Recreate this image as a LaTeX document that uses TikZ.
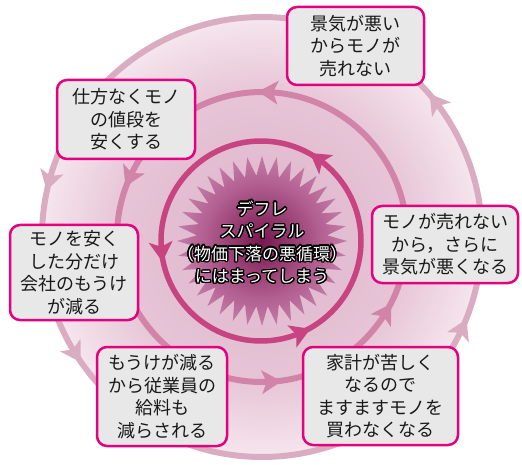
\documentclass[tikz,border=0pt]{standalone}
\usepackage{fontspec}
\setmainfont{Noto Sans CJK JP}
\usetikzlibrary{shapes.geometric}
\definecolor{ringOuter}{RGB}{218,172,194}
\definecolor{ringMid}{RGB}{210,132,168}
\definecolor{ringInner}{RGB}{200,68,128}
\definecolor{boxFill}{RGB}{232,232,232}
\definecolor{boxDraw}{RGB}{228,0,127}
\definecolor{txt}{RGB}{25,25,25}
\definecolor{bgA}{RGB}{222,178,202}
\definecolor{bgB}{RGB}{230,196,214}
\definecolor{bgC}{RGB}{242,222,232}
\definecolor{bgD}{RGB}{255,255,255}
\definecolor{starA}{RGB}{120,24,78}
\definecolor{starM}{RGB}{178,95,145}
\definecolor{starB}{RGB}{218,160,194}
\pgfdeclareradialshading{bgshade}{\pgfpoint{0bp}{0bp}}{color(0bp)=(bgA); color(16bp)=(bgB); color(23bp)=(bgC); color(31bp)=(bgD); color(50bp)=(bgD)}
\pgfdeclareradialshading{starshade}{\pgfpoint{0bp}{0bp}}{color(0bp)=(starA); color(17bp)=(starM); color(35bp)=(starB); color(50bp)=(starB)}
\newcommand\ringarrow[5]{%
  \fill[#5, shift={(#1,#2)}, rotate=#4] (#3-12,-8) -- (#3,12) -- (#3+12,-8) -- (#3,-3) -- cycle;}
\begin{document}
\begin{tikzpicture}[x=1pt,y=1pt,
  box/.style={draw=boxDraw, fill=boxFill, line width=2.5pt, rounded corners=10pt,
    align=center, text=txt, font=\fontsize{18}{22.5}\selectfont, inner sep=0pt},
  centertxt/.style={align=center, font=\fontsize{17}{22.5}\selectfont, inner sep=0pt}]
\useasboundingbox (0,0) rectangle (522,464);
% background gradient
\shade[shading=bgshade] (262,227) circle[radius=220];
% rings
\draw[ringOuter, line width=6pt] (262,227) circle[radius=220];
\draw[ringMid, line width=6pt] (262,227) circle[radius=145];
% star
\node[star, star points=36, star point ratio=1.3, minimum size=170pt, inner sep=0pt,
  shading=starshade, shade] (star) at (262,223) {};
\draw[ringInner, line width=5.5pt] (261,223) circle[radius=100];
% center text, outlined
\foreach \a in {0,22.5,...,337.5}
  \node[centertxt, text=black, xshift={1.4*cos(\a)*1pt}, yshift={1.4*sin(\a)*1pt}] at (262,222)
  {デフレ\\スパイラル\\（物価下落の悪循環）\\にはまってしまう};
\node[centertxt, text=white] (ctext) at (262,222)
  {デフレ\\スパイラル\\（物価下落の悪循環）\\にはまってしまう};
% ring arrows
\ringarrow{262}{227}{220}{164.7}{ringOuter}
\ringarrow{262}{227}{220}{211.5}{ringOuter}
\ringarrow{262}{227}{220}{335}{ringOuter}
\ringarrow{262}{227}{220}{37.4}{ringOuter}
\ringarrow{262}{227}{145}{86.8}{ringMid}
\ringarrow{262}{227}{145}{155}{ringMid}
\ringarrow{262}{227}{145}{273}{ringMid}
\ringarrow{262}{227}{145}{328}{ringMid}
\ringarrow{261}{223}{100}{54}{ringInner}
\ringarrow{261}{223}{100}{185}{ringInner}
\ringarrow{261}{223}{100}{292.5}{ringInner}
% boxes
\node[box, minimum width=137pt, minimum height=78pt] (b1) at (355.5,418) {景気が悪い\\からモノが\\売れない};
\node[box, minimum width=138pt, minimum height=79pt] (b2) at (126,344.5) {仕方なくモノ\\の値段を\\安くする};
\node[box, minimum width=128pt, minimum height=95pt] (b3) at (74,191.5) {モノを安く\\した分だけ\\会社のもうけ\\が減る};
\node[box, minimum width=146pt, minimum height=77pt] (b4) at (445,219.5) {モノが売れない\\から，さらに\\景気が悪くなる};
\node[box, minimum width=130pt, minimum height=99pt] (b5) at (162,67.5) {もうけが減る\\から従業員の\\給料も\\減らされる};
\node[box, minimum width=155pt, minimum height=98pt] (b6) at (380.5,68) {家計が苦しく\\なるので\\ますますモノを\\買わなくなる};
\end{tikzpicture}
\end{document}
